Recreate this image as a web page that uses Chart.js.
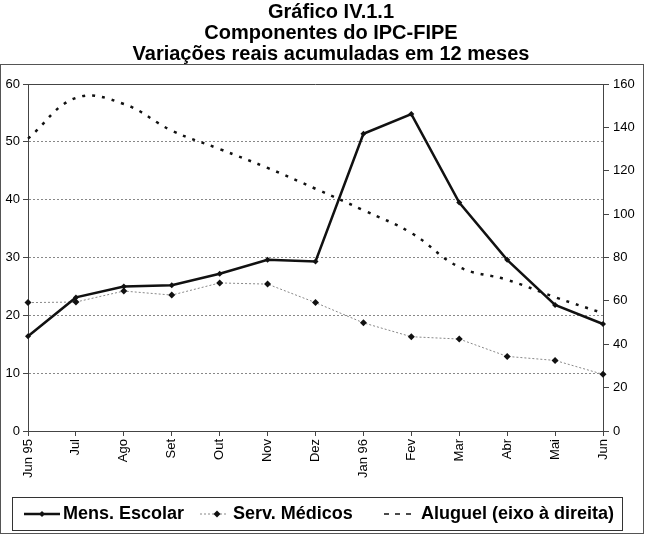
<!DOCTYPE html>
<html>
<head>
<meta charset="utf-8">
<script src="https://cdn.jsdelivr.net/npm/chart.js@4/dist/chart.umd.min.js"></script>
<style>
  html, body { margin: 0; padding: 0; background: #fff; }
  #wrap { width: 650px; height: 537px; }
</style>
</head>
<body>
<div id="wrap"><canvas id="chart" width="650" height="537"></canvas></div>
<script>
// Months, Jun 95 .. Jun 96
const months = ['Jun 95', 'Jul', 'Ago', 'Set', 'Out', 'Nov', 'Dez', 'Jan 96', 'Fev', 'Mar', 'Abr', 'Mai', 'Jun'];

// Left axis (%)
const mensEscolar = [16.4, 23.1, 25.0, 25.2, 27.2, 29.6, 29.3, 51.4, 54.8, 39.5, 29.6, 21.8, 18.5];
const servMedicos = [22.2, 22.3, 24.2, 23.5, 25.6, 25.4, 22.2, 18.7, 16.3, 15.9, 12.9, 12.2, 9.8];

// Right axis (%)
const aluguel = [134.8, 153.6, 150.8, 138.5, 130.0, 121.3, 111.7, 101.8, 91.3, 75.6, 69.7, 61.7, 54.3];

const titleLines = ['Gráfico IV.1.1', 'Componentes do IPC-FIPE', 'Variações reais acumuladas em 12 meses'];
const legendLabels = ['Mens. Escolar', 'Serv. Médicos', 'Aluguel (eixo à direita)'];

Chart.defaults.font.family = "'Liberation Sans', Arial, Helvetica, sans-serif";
Chart.defaults.color = '#000';

// frame round the plot, solid top line of the plot area and the legend box
const framePlugin = {
    id: 'frame',
    afterDraw(chart) {
        const ctx = chart.ctx;
        const area = chart.chartArea;
        ctx.save();
        ctx.strokeStyle = '#555';
        ctx.lineWidth = 1;
        ctx.strokeRect(0.5, 64.5, 643, 469);

        // top of plot
        ctx.strokeStyle = '#444';
        ctx.beginPath();
        ctx.moveTo(area.left, Math.round(area.top) + 0.5);
        ctx.lineTo(area.right, Math.round(area.top) + 0.5);
        ctx.stroke();

        // legend
        ctx.strokeStyle = '#333';
        ctx.strokeRect(12.5, 497.5, 610, 33);
        const y = 514;
        const samples = [[24, 60, 63], [200, 228, 233], [384, 416, 421]];
        chart.data.datasets.forEach((ds, i) => {
            const [x0, x1, tx] = samples[i];
            ctx.save();
            ctx.strokeStyle = ds.borderColor;
            ctx.lineWidth = i === 2 ? 1.5 : ds.borderWidth;
            ctx.setLineDash(i === 2 ? [5, 6] : (ds.borderDash || []));
            ctx.beginPath();
            ctx.moveTo(x0, y);
            ctx.lineTo(x1, y);
            ctx.stroke();
            ctx.restore();
            if (ds.pointRadius > 0) {
                const cx = (x0 + x1) / 2 + (i === 1 ? 3 : 0);
                const r = ds.pointRadius;
                ctx.fillStyle = ds.pointBackgroundColor;
                ctx.beginPath();
                ctx.moveTo(cx, y - r);
                ctx.lineTo(cx + r, y);
                ctx.lineTo(cx, y + r);
                ctx.lineTo(cx - r, y);
                ctx.closePath();
                ctx.fill();
            }
            ctx.fillStyle = '#000';
            ctx.font = "bold 18px 'Liberation Sans', Arial, sans-serif";
            ctx.textBaseline = 'middle';
            ctx.textAlign = 'left';
            ctx.fillText(legendLabels[i], tx, y);
        });
        ctx.restore();
    }
};

const ctx = document.getElementById('chart').getContext('2d');
new Chart(ctx, {
    type: 'line',
    data: {
        labels: months,
        datasets: [{
            label: legendLabels[0],
            data: mensEscolar,
            yAxisID: 'y',
            borderColor: '#111',
            borderWidth: 2.5,
            pointStyle: 'rectRot',
            pointRadius: 3,
            pointBackgroundColor: '#111',
            pointBorderColor: '#111',
            pointBorderWidth: 0,
            tension: 0
        }, {
            label: legendLabels[1],
            data: servMedicos,
            yAxisID: 'y',
            borderColor: '#888',
            borderWidth: 1,
            borderDash: [2, 2],
            pointStyle: 'rectRot',
            pointRadius: 3.5,
            pointBackgroundColor: '#111',
            pointBorderColor: '#111',
            pointBorderWidth: 0,
            tension: 0
        }, {
            label: legendLabels[2],
            data: aluguel,
            yAxisID: 'y2',
            borderColor: '#111',
            borderWidth: 2.5,
            borderDash: [3, 7],
            pointRadius: 0,
            tension: 0.4
        }]
    },
    options: {
        responsive: false,
        animation: false,
        layout: { padding: { left: 0, right: -12, top: 0, bottom: 56 } },
        plugins: {
            legend: { display: false },
            tooltip: { enabled: false },
            title: {
                display: true,
                text: titleLines,
                color: '#000',
                font: { size: 20, weight: 'bold', lineHeight: 1.05 },
                padding: { top: 2, bottom: 19 }
            }
        },
        scales: {
            x: {
                offset: false,
                grid: { drawOnChartArea: false, drawTicks: true, tickLength: 5, tickColor: '#444' },
                border: { color: '#444', width: 1 },
                ticks: { minRotation: 90, maxRotation: 90, padding: 3, font: { size: 13 }, autoSkip: false },
                afterFit: s => { s.height = 50; }
            },
            y: {
                position: 'left',
                min: 0,
                max: 60,
                ticks: { stepSize: 10, padding: 3, font: { size: 13 } },
                grid: {
                    color: c => (c.tick.value === 0 || c.tick.value === 60) ? 'rgba(0,0,0,0)' : '#888',
                    tickColor: '#444',
                    tickLength: 5
                },
                border: { color: '#444', width: 1, dash: [2, 2] },
                afterFit: s => { s.width = 28; }
            },
            y2: {
                position: 'right',
                min: 0,
                max: 160,
                ticks: { stepSize: 20, padding: 4, font: { size: 13 } },
                grid: { drawOnChartArea: false, tickColor: '#444', tickLength: 6 },
                border: { color: '#444', width: 1 },
                afterFit: s => { s.width = 59; }
            }
        }
    },
    plugins: [framePlugin]
});
</script>
</body>
</html>
